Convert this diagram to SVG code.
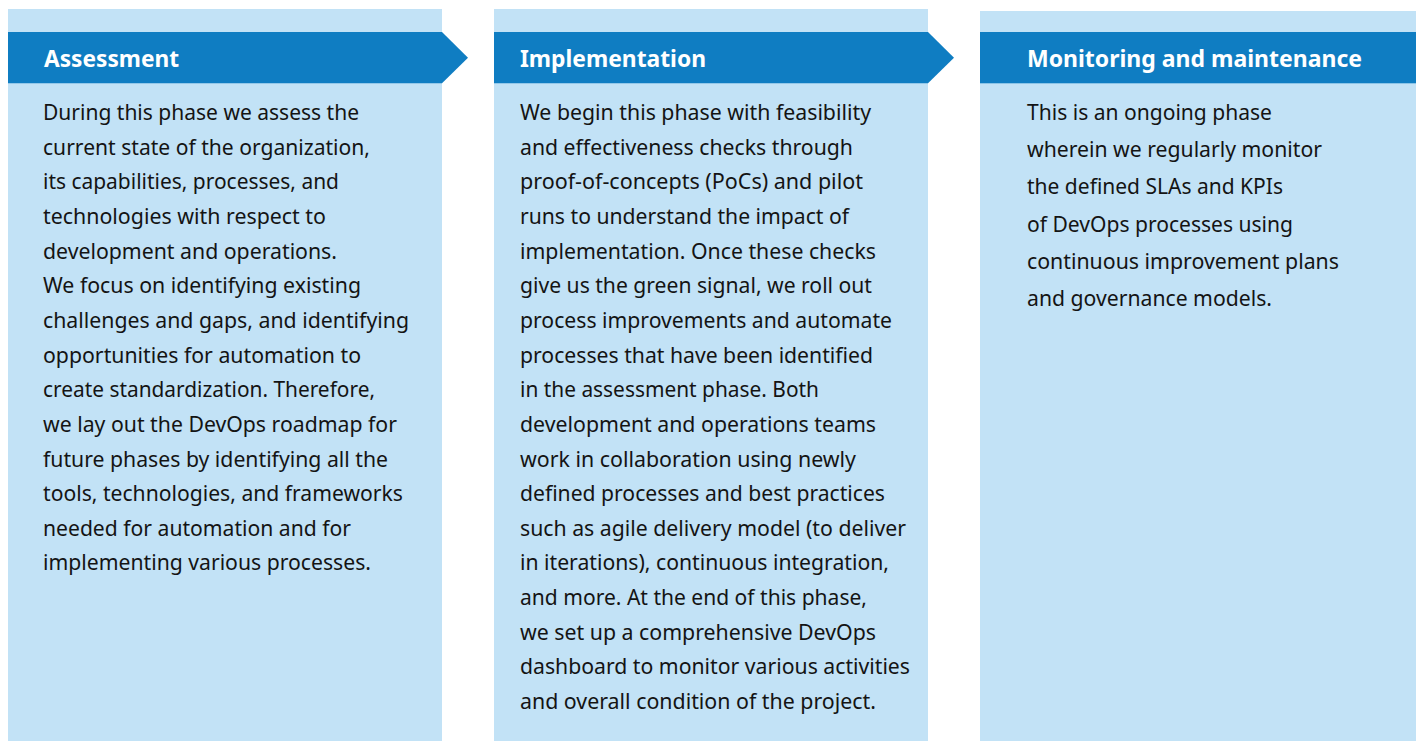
<svg xmlns="http://www.w3.org/2000/svg" width="1416" height="741" viewBox="0 0 1416 741">
<style>
.panel{fill:#C2E2F6}
.band{fill:#0F7DC2}
.hd{font-family:"Noto Sans","Open Sans",sans-serif;font-weight:bold;font-size:23px;fill:#FFFFFF}
.bd{font-family:"Noto Sans","Open Sans",sans-serif;font-size:21px;fill:#141414}
</style>
<rect width="1416" height="741" fill="#FFFFFF"/>
<g id="assessment">
<rect class="panel" x="8" y="9" width="434" height="732"/>
<path class="band" d="M8 32H442L468 57.7L442 83.3H8Z"/>
<text class="hd" x="44" y="66.5" textLength="135" lengthAdjust="spacingAndGlyphs">Assessment</text>
<g class="bd">
<text x="43" y="120" textLength="316" lengthAdjust="spacingAndGlyphs">During this phase we assess the</text>
<text x="43" y="154.6" textLength="327" lengthAdjust="spacingAndGlyphs">current state of the organization,</text>
<text x="43" y="189.3" textLength="296" lengthAdjust="spacingAndGlyphs">its capabilities, processes, and</text>
<text x="43" y="223.9" textLength="283" lengthAdjust="spacingAndGlyphs">technologies with respect to</text>
<text x="43" y="258.6" textLength="294" lengthAdjust="spacingAndGlyphs">development and operations.</text>
<text x="43" y="293.2" textLength="318" lengthAdjust="spacingAndGlyphs">We focus on identifying existing</text>
<text x="43" y="327.9" textLength="366" lengthAdjust="spacingAndGlyphs">challenges and gaps, and identifying</text>
<text x="43" y="362.5" textLength="318" lengthAdjust="spacingAndGlyphs">opportunities for automation to</text>
<text x="43" y="397.2" textLength="332" lengthAdjust="spacingAndGlyphs">create standardization. Therefore,</text>
<text x="43" y="431.8" textLength="354" lengthAdjust="spacingAndGlyphs">we lay out the DevOps roadmap for</text>
<text x="43" y="466.5" textLength="345" lengthAdjust="spacingAndGlyphs">future phases by identifying all the</text>
<text x="43" y="501.1" textLength="360" lengthAdjust="spacingAndGlyphs">tools, technologies, and frameworks</text>
<text x="43" y="535.8" textLength="308" lengthAdjust="spacingAndGlyphs">needed for automation and for</text>
<text x="43" y="570.4" textLength="328" lengthAdjust="spacingAndGlyphs">implementing various processes.</text>
</g>
</g>
<g id="implementation">
<rect class="panel" x="494" y="9" width="434" height="732"/>
<path class="band" d="M494 32H928L954 57.7L928 83.3H494Z"/>
<text class="hd" x="520" y="66.5" textLength="186" lengthAdjust="spacingAndGlyphs">Implementation</text>
<g class="bd">
<text x="520" y="120" textLength="351" lengthAdjust="spacingAndGlyphs">We begin this phase with feasibility</text>
<text x="520" y="154.6" textLength="333" lengthAdjust="spacingAndGlyphs">and effectiveness checks through</text>
<text x="520" y="189.3" textLength="343" lengthAdjust="spacingAndGlyphs">proof-of-concepts (PoCs) and pilot</text>
<text x="520" y="223.9" textLength="329" lengthAdjust="spacingAndGlyphs">runs to understand the impact of</text>
<text x="520" y="258.6" textLength="356" lengthAdjust="spacingAndGlyphs">implementation. Once these checks</text>
<text x="520" y="293.2" textLength="352" lengthAdjust="spacingAndGlyphs">give us the green signal, we roll out</text>
<text x="520" y="327.9" textLength="372" lengthAdjust="spacingAndGlyphs">process improvements and automate</text>
<text x="520" y="362.5" textLength="353" lengthAdjust="spacingAndGlyphs">processes that have been identified</text>
<text x="520" y="397.2" textLength="299" lengthAdjust="spacingAndGlyphs">in the assessment phase. Both</text>
<text x="520" y="431.8" textLength="356" lengthAdjust="spacingAndGlyphs">development and operations teams</text>
<text x="520" y="466.5" textLength="336" lengthAdjust="spacingAndGlyphs">work in collaboration using newly</text>
<text x="520" y="501.1" textLength="365" lengthAdjust="spacingAndGlyphs">defined processes and best practices</text>
<text x="520" y="535.8" textLength="386" lengthAdjust="spacingAndGlyphs">such as agile delivery model (to deliver</text>
<text x="520" y="570.4" textLength="369" lengthAdjust="spacingAndGlyphs">in iterations), continuous integration,</text>
<text x="520" y="605.1" textLength="347" lengthAdjust="spacingAndGlyphs">and more. At the end of this phase,</text>
<text x="520" y="639.7" textLength="356" lengthAdjust="spacingAndGlyphs">we set up a comprehensive DevOps</text>
<text x="520" y="674.4" textLength="390" lengthAdjust="spacingAndGlyphs">dashboard to monitor various activities</text>
<text x="520" y="709" textLength="356" lengthAdjust="spacingAndGlyphs">and overall condition of the project.</text>
</g>
</g>
<g id="monitoring">
<rect class="panel" x="980" y="11" width="436" height="730"/>
<rect class="band" x="980" y="32" width="436" height="51.3"/>
<text class="hd" x="1027" y="66.5" textLength="335" lengthAdjust="spacingAndGlyphs">Monitoring and maintenance</text>
<g class="bd">
<text x="1027" y="120" textLength="245" lengthAdjust="spacingAndGlyphs">This is an ongoing phase</text>
<text x="1027" y="157.2" textLength="295" lengthAdjust="spacingAndGlyphs">wherein we regularly monitor</text>
<text x="1027" y="194.4" textLength="256" lengthAdjust="spacingAndGlyphs">the defined SLAs and KPIs</text>
<text x="1027" y="231.6" textLength="266" lengthAdjust="spacingAndGlyphs">of DevOps processes using</text>
<text x="1027" y="268.8" textLength="312" lengthAdjust="spacingAndGlyphs">continuous improvement plans</text>
<text x="1027" y="306" textLength="245" lengthAdjust="spacingAndGlyphs">and governance models.</text>
</g>
</g>
<g id="connectors"/>
</svg>
